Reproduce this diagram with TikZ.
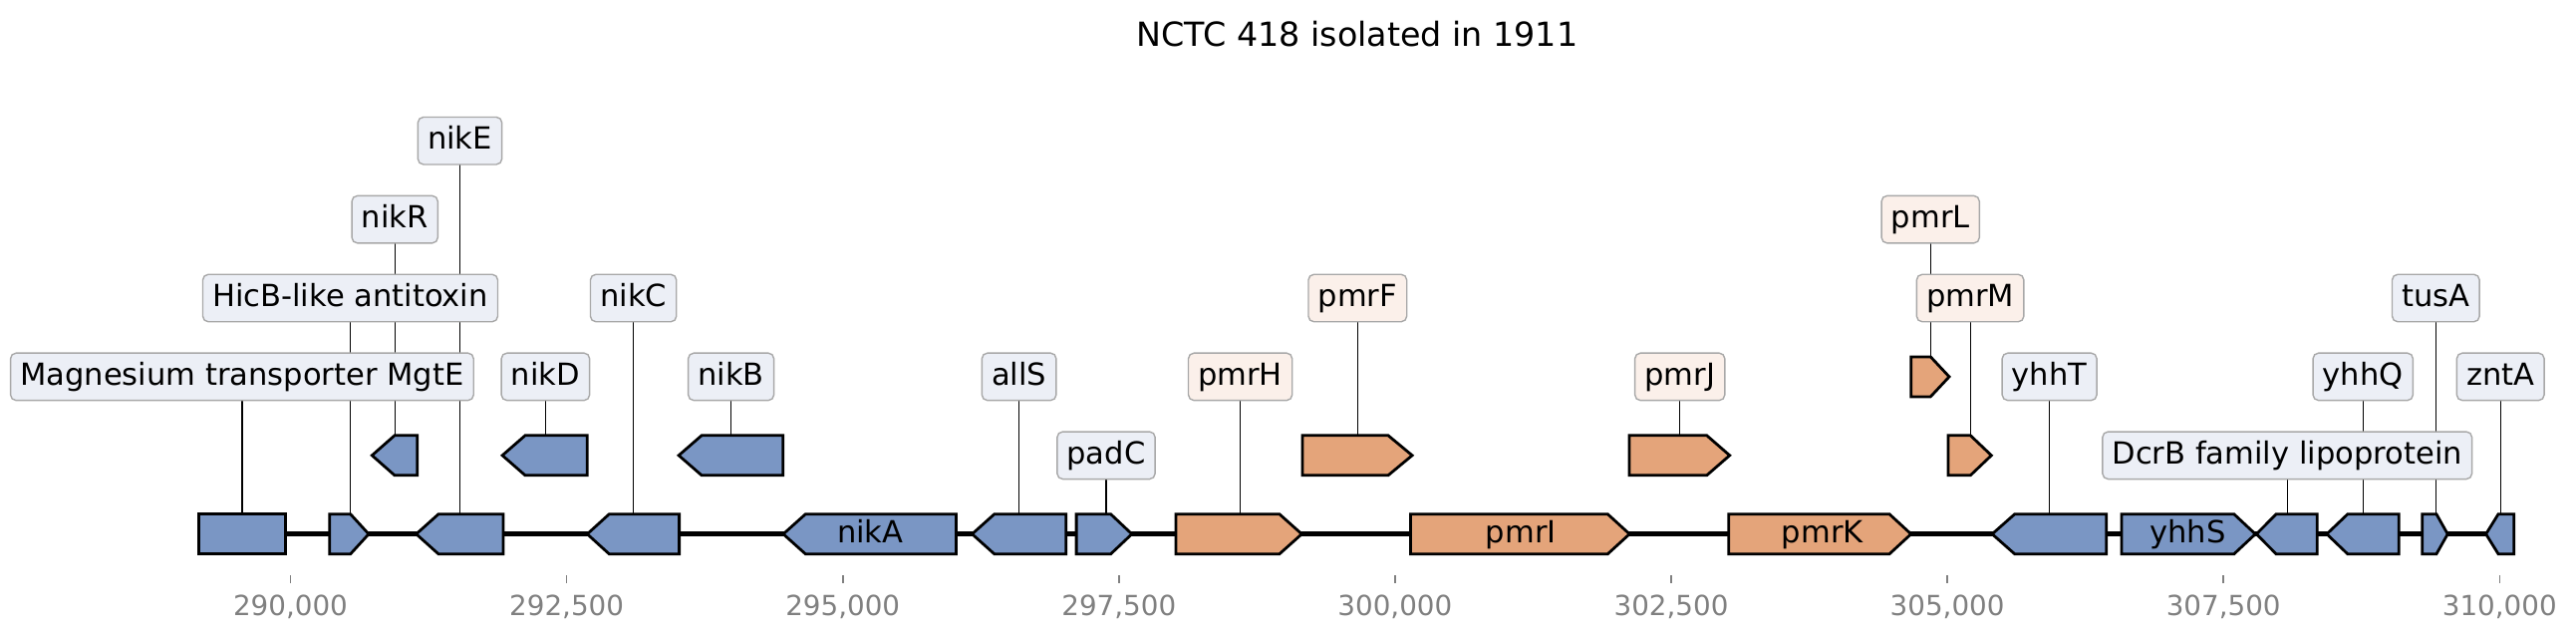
\documentclass[tikz,border=0pt]{standalone}
\usepackage{fontspec}
\setmainfont{DejaVu Sans}
\usetikzlibrary{backgrounds}
\definecolor{geneblue}{HTML}{7A96C4}
\definecolor{geneorange}{HTML}{E4A47A}
\definecolor{labblue}{HTML}{ECEFF6}
\definecolor{laborange}{HTML}{FBF0EA}
\definecolor{labborder}{HTML}{A8A8A8}
\definecolor{tickgray}{HTML}{808080}
\newcommand{\genefwd}[5]{\draw[#5] (#1,#3-20) -- (#2-#4,#3-20) -- (#2,#3) -- (#2-#4,#3+20) -- (#1,#3+20) -- cycle;}
\newcommand{\generev}[5]{\draw[#5] (#2,#3-20) -- (#1+#4,#3-20) -- (#1,#3) -- (#1+#4,#3+20) -- (#2,#3+20) -- cycle;}
\newcommand{\generect}[4]{\draw[#4] (#1,#3-20) rectangle (#2,#3+20);}
\tikzset{
 lab/.style={draw=labborder, line width=0.5pt, rounded corners=2pt, font=\fontsize{11}{13}\selectfont, text height=8.6pt, text depth=2.4pt, inner xsep=3.5pt, inner ysep=3.05pt},
 labb/.style={lab, fill=labblue},
 labo/.style={lab, fill=laborange},
 gb/.style={draw=black, line width=1pt, fill=geneblue, line join=miter},
 go/.style={draw=black, line width=1pt, fill=geneorange, line join=miter},
 conn/.style={draw=black, line width=0.45pt},
 backbone/.style={draw=black, line width=1.6pt},
 inl/.style={font=\fontsize{11}{13}\selectfont, inner sep=0pt, text height=8.6pt, text depth=2.4pt},
 ticklab/.style={font=\fontsize{10}{12}\selectfont, text=tickgray, anchor=base, inner sep=0pt},
}
\begin{document}
\begin{tikzpicture}[x=0.36pt, y=-0.36pt]
\useasboundingbox (0,0) rectangle (2585,643);
% title
\node[font=\fontsize{12}{14}\selectfont, anchor=base, inner sep=0pt] (title) at (1362,46.7) {NCTC 418 isolated in 1911};
% backbone
\coordinate (bbL) at (199.3,535.7);
\coordinate (bbR) at (2522.8,535.7);
\draw[backbone] (bbL) -- (bbR);
% main row genes
\generect{199.3}{286.7}{535.7}{gb}
\genefwd{330.7}{370}{535.7}{18.3}{gb}
\generev{417.7}{505}{535.7}{22.3}{gb}
\generev{589.3}{681.6}{535.7}{22}{gb}
\generev{786}{959.5}{535.7}{22.3}{gb}
\generev{975.5}{1069.8}{535.7}{22.3}{gb}
\genefwd{1080.1}{1135.8}{535.7}{21.2}{gb}
\genefwd{1180}{1306.3}{535.7}{22.4}{go}
\genefwd{1415.4}{1635.2}{535.7}{21.9}{go}
\genefwd{1734.7}{1917.7}{535.7}{21.7}{go}
\generev{1999.1}{2113.7}{535.7}{22.6}{gb}
\genefwd{2128.9}{2263.2}{535.7}{21.4}{gb}
\generev{2264.3}{2325.3}{535.7}{19.8}{gb}
\generev{2334.9}{2407.1}{535.7}{20.9}{gb}
\genefwd{2430.8}{2456.2}{535.7}{11.3}{gb}
\generev{2494.6}{2522.8}{535.7}{12.4}{gb}
% level 1 genes
\generev{373.3}{418.7}{456.8}{22.7}{gb}
\generev{504.1}{589.3}{456.8}{22.9}{gb}
\generev{681.1}{785.7}{456.8}{23}{gb}
\genefwd{1306.9}{1417.1}{456.8}{24.1}{go}
\genefwd{1635}{1735.7}{456.8}{23}{go}
\genefwd{1955}{1998.3}{456.8}{21}{go}
% level 2 gene
\genefwd{1917.7}{1956}{377.9}{18.7}{go}
% inline labels
\node[inl] (tnikA) at (873.3,535.7) {nikA};
\node[inl] (tpmrI) at (1526.2,535.7) {pmrI};
\node[inl] (tpmrK) at (1828.7,535.7) {pmrK};
\node[inl] (tyhhS) at (2195.5,535.7) {yhhS};
% label boxes
\node[labb] (lMg) at (242.9,377.9) {Magnesium transporter MgtE};
\node[labb] (lHicB) at (351.5,299.0) {HicB-like antitoxin};
\node[labb] (lnikR) at (396.2,220.1) {nikR};
\node[labb] (lnikE) at (461.5,141.2) {nikE};
\node[labb] (lnikC) at (635.6,299.0) {nikC};
\node[labb] (lnikD) at (547.4,377.9) {nikD};
\node[labb] (lnikB) at (733.6,377.9) {nikB};
\node[labb] (lallS) at (1022.6,377.9) {allS};
\node[labb] (lpadC) at (1110,456.8) {padC};
\node[labo] (lpmrH) at (1244.6,377.9) {pmrH};
\node[labo] (lpmrF) at (1362.3,299.0) {pmrF};
\node[labo] (lpmrJ) at (1685.7,377.9) {pmrJ};
\node[labo] (lpmrL) at (1937.2,220.1) {pmrL};
\node[labo] (lpmrM) at (1977.1,299.0) {pmrM};
\node[labb] (lyhhT) at (2056.6,377.9) {yhhT};
\node[labb] (lDcrB) at (2295.2,456.8) {DcrB family lipoprotein};
\node[labb] (lyhhQ) at (2371.2,377.9) {yhhQ};
\node[labb] (ltusA) at (2444.3,299.0) {tusA};
\node[labb] (lzntA) at (2509.2,377.9) {zntA};
% gene top coordinates
\coordinate (gMg) at (242.9,515.7);
\coordinate (gHicB) at (351.5,515.7);
\coordinate (gnikR) at (396.2,436.8);
\coordinate (gnikE) at (461.5,515.7);
\coordinate (gnikC) at (635.6,515.7);
\coordinate (gnikD) at (547.4,436.8);
\coordinate (gnikB) at (733.6,436.8);
\coordinate (gallS) at (1022.6,515.7);
\coordinate (gpadC) at (1110,515.7);
\coordinate (gpmrH) at (1244.6,515.7);
\coordinate (gpmrF) at (1362.3,436.8);
\coordinate (gpmrJ) at (1685.7,436.8);
\coordinate (gpmrL) at (1937.2,357.9);
\coordinate (gpmrM) at (1977.1,436.8);
\coordinate (gyhhT) at (2056.6,515.7);
\coordinate (gDcrB) at (2295.2,515.7);
\coordinate (gyhhQ) at (2371.2,515.7);
\coordinate (gtusA) at (2444.3,515.7);
\coordinate (gzntA) at (2509.2,515.7);
% connectors behind boxes
\begin{scope}[on background layer]
\foreach \n in {Mg,HicB,nikR,nikE,nikC,nikD,nikB,allS,padC,pmrH,pmrF,pmrJ,pmrL,pmrM,yhhT,DcrB,yhhQ,tusA,zntA}{
  \draw[conn] (l\n.center) -- (g\n);
}
\end{scope}
% axis ticks
\foreach \i/\t in {0/{290,000},1/{292,500},2/{295,000},3/{297,500},4/{300,000},5/{302,500},6/{305,000},7/{307,500},8/{310,000}}{
  \pgfmathsetmacro{\xx}{291.5+\i*277.1}
  \draw[tickgray, line width=0.6pt] (\xx,577) -- (\xx,585);
  \node[ticklab] (tick\i) at (\xx,617.3) {\t};
}
\end{tikzpicture}
\end{document}
